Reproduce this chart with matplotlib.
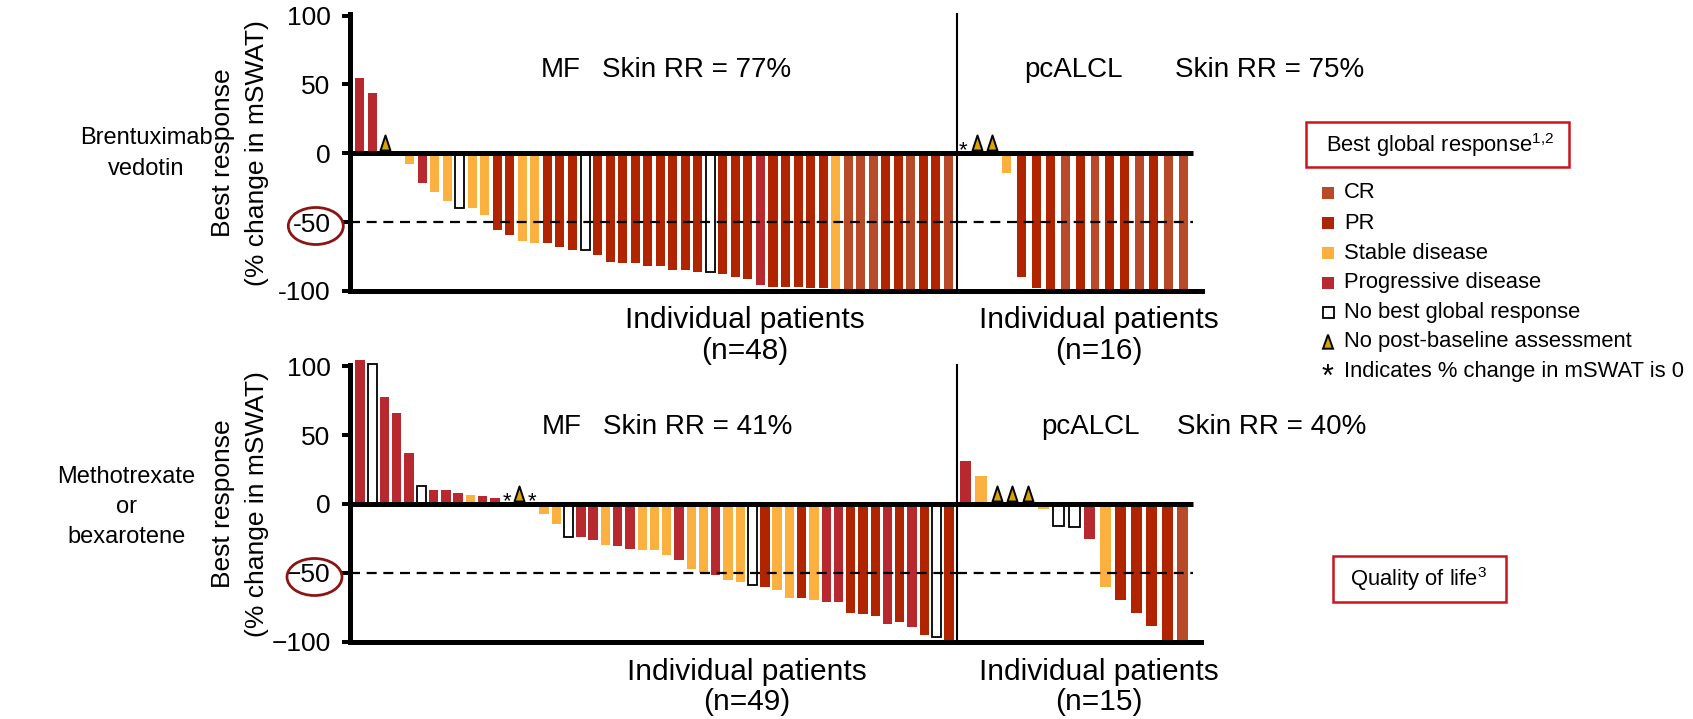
import numpy as np
import matplotlib
matplotlib.use("Agg")
import matplotlib.pyplot as plt
from matplotlib.patches import Ellipse, Rectangle, Polygon
from matplotlib.path import Path
from matplotlib.markers import MarkerStyle

plt.rcParams['font.family'] = ['Liberation Sans', 'DejaVu Sans']

# ---------------- data ----------------
status_colors = {'CR': '#B94A29', 'PR': '#B02400', 'SD': '#FBB040', 'PD': '#B7282F'}
legend_labels = ['CR', 'PR', 'Stable disease', 'Progressive disease',
                 'No best global response', 'No post-baseline assessment',
                 'Indicates % change in mSWAT is 0']

# Brentuximab vedotin - MF (n=48)
bv_mf_values = [55, 44, 0, 0, -8, -21.5, -28, -34.5, -39.5, -40, -45,
                -56, -59, -64, -65.5, -65.5, -68, -70.5, -70.5, -73.5, -79, -80,
                -80, -82, -82, -85, -85, -86.5, -86, -87.5, -89.5, -91.5,
                -95.5, -97, -97, -97, -98, -98, -98.5,
                -100, -100, -100, -100, -100, -100, -100, -100, -100]
bv_mf_status = ['PD', 'PD', 'NPBA', 'SD', 'SD', 'PD', 'SD', 'SD', 'NBGR', 'SD', 'SD',
                'PR', 'PR', 'SD', 'SD', 'PR', 'PR', 'PR', 'NBGR', 'PR', 'PR', 'PR',
                'PR', 'PR', 'PR', 'PR', 'PR', 'PR', 'NBGR', 'PR', 'PR', 'PR',
                'PD', 'PR', 'PR', 'PR', 'PR', 'PR', 'SD',
                'CR', 'CR', 'CR', 'PR', 'PR', 'CR', 'PR', 'PR', 'CR']

# Brentuximab vedotin - pcALCL (n=16)
bv_pc_values = [0, 0, 0, -14, -89.5, -97.5, -100, -100, -100, -100, -100, -100,
                -100, -100, -100, -100]
bv_pc_status = ['ZERO', 'NPBA', 'NPBA', 'SD', 'PR', 'PR', 'PR', 'CR', 'PR', 'CR',
                'PR', 'PR', 'CR', 'PR', 'CR', 'CR']

# Methotrexate or bexarotene - MF (n=49)
mb_mf_values = [104.5, 102, 77.5, 66, 37, 13, 10, 10, 8, 6.5, 5.5, 4.5, 0, 0, 0,
                -7, -14.5, -24, -24, -26, -30, -30.5, -32.5, -33.5, -33.5,
                -37, -40.5, -47.5, -50, -51.5, -55.5, -57, -59, -60, -62.5,
                -68, -68, -70, -71.5, -71.5, -79, -80, -81.5, -87, -86,
                -89, -95, -96.5, -100]
mb_mf_status = ['PD', 'NBGR', 'PD', 'PD', 'PD', 'NBGR', 'PD', 'PD', 'PD', 'SD', 'PD', 'PD',
                'ZERO', 'NPBA', 'ZERO',
                'SD', 'SD', 'NBGR', 'PD', 'PD', 'SD', 'PD', 'PD', 'SD', 'SD',
                'SD', 'PD', 'SD', 'SD', 'PD', 'SD', 'SD', 'NBGR', 'PR', 'SD',
                'SD', 'PR', 'SD', 'PD', 'PD', 'PR', 'PR', 'PR', 'PD', 'PR',
                'PD', 'PR', 'NBGR', 'PR']

# Methotrexate or bexarotene - pcALCL (n=15)
mb_pc_values = [31.5, 20, 0, 0, 0, -4, -16, -16.5, -25.5, -60, -69.5, -79.5,
                -88.5, -100, -100]
mb_pc_status = ['PD', 'SD', 'NPBA', 'NPBA', 'NPBA', 'SD', 'NBGR', 'NBGR', 'PD', 'SD',
                'PR', 'PR', 'PR', 'PR', 'CR']

yticks = [-100, -50, 0, 50, 100]
top_ticklabels = ['-100', '-50', '0', '50', '100']
bot_ticklabels = ['\u2212100', '\u221250', '0', '50', '100']

# ---------------- layout ----------------
W, H = 1693, 719
fig = plt.figure(figsize=(W / 100, H / 100), dpi=100)


def fx(px):
    return px / W


def fy(py):
    return 1 - py / H


def rect(x0, x1, ybot, ytop):
    return [fx(x0), fy(ybot), (x1 - x0) / W, (ybot - ytop) / H]


LW = 3.6
GOLD = '#D9A400'
tri_marker = MarkerStyle(Path([(-0.33, 0.2), (0.33, 0.2), (0, 1.2), (-0.33, 0.2)],
                              [Path.MOVETO, Path.LINETO, Path.LINETO, Path.CLOSEPOLY]))


def draw_group(ax, values, status, width):
    x = np.arange(len(values))
    v = np.array(values, dtype=float)
    st = np.array(status)
    for cat, col in status_colors.items():
        m = st == cat
        ax.bar(x[m], v[m], width=width, color=col, linewidth=0, zorder=2, clip_on=False)
    m = st == 'NBGR'
    ax.bar(x[m], v[m], width=width, facecolor='white', edgecolor='black',
           linewidth=1.3, zorder=2, clip_on=False)
    m = st == 'NPBA'
    ax.plot(x[m], v[m], ls='none', marker=tri_marker, ms=26, mfc=GOLD, mec='black',
            mew=1.4, zorder=6, clip_on=False)
    for xi, vi in zip(x[st == 'ZERO'], v[st == 'ZERO']):
        ax.annotate('*', (xi, vi), xytext=(0, -2), textcoords='offset points',
                    ha='center', va='baseline', fontsize=16, zorder=6)


def style_left(ax, labels):
    for s in ['top', 'right']:
        ax.spines[s].set_visible(False)
    ax.spines['left'].set_linewidth(LW)
    ax.spines['bottom'].set_linewidth(LW)
    ax.spines['left'].set_zorder(5)
    ax.spines['bottom'].set_zorder(5)
    ax.set_xticks([])
    ax.set_yticks(yticks)
    ax.set_yticklabels(labels)
    ax.tick_params(axis='y', length=6, width=2.9, labelsize=19, pad=8)
    ax.set_ylim(-100, 101)
    ax.patch.set_alpha(0)


def style_right(ax):
    for s in ['top', 'right']:
        ax.spines[s].set_visible(False)
    ax.spines['left'].set_linewidth(1.5)
    ax.spines['bottom'].set_linewidth(LW)
    ax.spines['bottom'].set_zorder(5)
    ax.set_xticks([])
    ax.set_yticks([])
    ax.set_ylim(-100, 101)
    ax.patch.set_alpha(0)


ZERO_END = 1193.3
panels = [
    dict(yb=291.0, yt=14.2, lx=(350, 956.7), rx=(956.7, 1201.7),
         lxl=(-0.758, 47.66), rxl=(-0.408, 16.26), wl=0.72, wr=0.61,
         mf=(bv_mf_values, bv_mf_status), pc=(bv_pc_values, bv_pc_status),
         labels=top_ticklabels, ell=(315.8, 226)),
    dict(yb=641.7, yt=364.9, lx=(350, 957), rx=(957, 1200.7),
         lxl=(-0.815, 48.66), rxl=(-0.548, 15.17), wl=0.76, wr=0.71,
         mf=(mb_mf_values, mb_mf_status), pc=(mb_pc_values, mb_pc_status),
         labels=bot_ticklabels, ell=(314.5, 577)),
]

for p in panels:
    axl = fig.add_axes(rect(p['lx'][0], p['lx'][1], p['yb'], p['yt']))
    axr = fig.add_axes(rect(p['rx'][0], p['rx'][1], p['yb'], p['yt']))
    axl.set_xlim(*p['lxl'])
    axr.set_xlim(*p['rxl'])
    style_left(axl, p['labels'])
    style_right(axr)
    draw_group(axl, *p['mf'], p['wl'])
    draw_group(axr, *p['pc'], p['wr'])
    frac = (ZERO_END - p['rx'][0]) / (p['rx'][1] - p['rx'][0])
    axl.axhline(0, color='black', lw=LW, zorder=4, solid_capstyle='butt')
    axr.axhline(0, xmax=frac, color='black', lw=LW, zorder=4, solid_capstyle='butt')
    axl.axhline(-50, color='black', lw=1.6, ls=(0, (4.5, 3)), zorder=4)
    axr.axhline(-50, xmax=frac, color='black', lw=1.6, ls=(0, (4.5, 3)), zorder=4)
    ex, ey = p['ell']
    fig.add_artist(Ellipse((fx(ex), fy(ey)), 55 / W, 37 / H, fill=False,
                           edgecolor='#8B1515', lw=2.0, transform=fig.transFigure))

# ---------------- texts ----------------
TXT = 20
fig.text(fx(541), fy(77), 'MF', fontsize=TXT, va='baseline')
fig.text(fx(602), fy(77), 'Skin RR = 77%', fontsize=TXT, va='baseline')
fig.text(fx(1024), fy(77), 'pcALCL', fontsize=TXT, va='baseline')
fig.text(fx(1175), fy(77), 'Skin RR = 75%', fontsize=TXT, va='baseline')
fig.text(fx(541.7), fy(434), 'MF', fontsize=TXT, va='baseline')
fig.text(fx(603.3), fy(434), 'Skin RR = 41%', fontsize=TXT, va='baseline')
fig.text(fx(1041.7), fy(434), 'pcALCL', fontsize=TXT, va='baseline')
fig.text(fx(1177), fy(434), 'Skin RR = 40%', fontsize=TXT, va='baseline')

IP = 21.5
for cx, b1, b2, n in [(745, 328, 359, '(n=48)'), (1099, 328, 359, '(n=16)'),
                      (747, 680, 710, '(n=49)'), (1099, 680, 710, '(n=15)')]:
    fig.text(fx(cx), fy(b1), 'Individual patients', fontsize=IP, ha='center', va='baseline')
    fig.text(fx(cx), fy(b2), n, fontsize=IP, ha='center', va='baseline')

RL = 17
fig.text(fx(146), fy(144.3), 'Brentuximab', fontsize=RL, ha='center', va='baseline')
fig.text(fx(146), fy(175), 'vedotin', fontsize=RL, ha='center', va='baseline')
fig.text(fx(126.3), fy(482.7), 'Methotrexate', fontsize=RL, ha='center', va='baseline')
fig.text(fx(126.3), fy(512.7), 'or', fontsize=RL, ha='center', va='baseline')
fig.text(fx(126.3), fy(542.7), 'bexarotene', fontsize=RL, ha='center', va='baseline')

YL = 19
for cy in [153, 504]:
    fig.text(fx(223), fy(cy), 'Best response', fontsize=YL, rotation=90, ha='center', va='center')
    fig.text(fx(257), fy(cy), '(% change in mSWAT)', fontsize=YL, rotation=90, ha='center', va='center')

# ---------------- legend ----------------
LF = 15.8
BOXRED = '#C8161D'
fig.add_artist(Rectangle((fx(1306), fy(167)), (1569 - 1306) / W, (167 - 122) / H,
                         fill=False, edgecolor=BOXRED, lw=1.8, transform=fig.transFigure))
fig.text(fx(1326), fy(145), r'Best global response$^{\mathregular{1{,}2}}$', fontsize=LF,
         va='center')

row_y = [192.7, 223.3, 253.3, 282.7, 312.7, 341.7, 371]
legend_kinds = ['CR', 'PR', 'SD', 'PD', 'NBGR', 'NPBA', 'ZERO']
mx = 1328
for kind, lab, yy in zip(legend_kinds, legend_labels, row_y):
    if kind in status_colors:
        fig.add_artist(Rectangle((fx(mx - 6), fy(yy + 6)), 12 / W, 12 / H,
                                 facecolor=status_colors[kind], edgecolor='none',
                                 transform=fig.transFigure))
    elif kind == 'NBGR':
        fig.add_artist(Rectangle((fx(mx - 5.5), fy(yy + 5.5)), 11 / W, 11 / H,
                                 facecolor='white', edgecolor='black', lw=1.3,
                                 transform=fig.transFigure))
    elif kind == 'NPBA':
        fig.add_artist(Polygon([(fx(mx - 5), fy(yy + 7)), (fx(mx + 5), fy(yy + 7)),
                                (fx(mx), fy(yy - 7))], closed=True, facecolor=GOLD,
                               edgecolor='black', lw=1.4, transform=fig.transFigure))
    else:
        fig.text(fx(mx), fy(yy + 15), '*', fontsize=22, ha='center', va='baseline')
    fig.text(fx(1344), fy(yy), lab, fontsize=LF, va='center')

fig.add_artist(Rectangle((fx(1332.7), fy(602)), (1505.7 - 1332.7) / W, (602 - 556) / H,
                         fill=False, edgecolor=BOXRED, lw=1.8, transform=fig.transFigure))
fig.text(fx(1419), fy(579), r'Quality of life$^{\mathregular{3}}$', fontsize=LF,
         ha='center', va='center')

fig.savefig('out.png', dpi=100)
